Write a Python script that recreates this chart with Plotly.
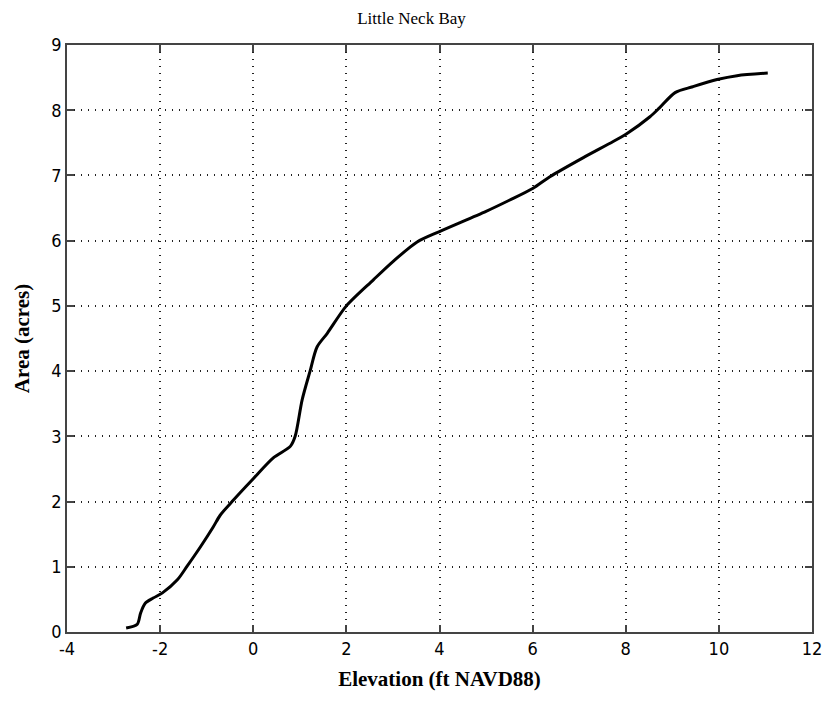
import plotly.graph_objects as go

# Hypsometric curve: wetted area vs. elevation
elevation_ft = [-2.73, -2.49, -2.42, -2.32, -2.15, -1.95, -1.63, -1.42, -1.14, -0.86,
                -0.71, -0.43, 0.0, 0.43, 0.8, 0.9, 1.05, 1.22, 1.37, 1.59, 2.0,
                2.58, 3.0, 3.52, 4.0, 5.0, 5.5, 6.0, 6.37, 7.08, 7.73, 8.02, 8.52,
                8.73, 9.06, 9.44, 9.96, 10.39, 11.05]
area_acres = [0.06, 0.12, 0.29, 0.44, 0.52, 0.60, 0.80, 1.01, 1.30, 1.61,
              1.79, 2.02, 2.35, 2.67, 2.85, 3.0, 3.56, 4.0, 4.37, 4.58, 5.0,
              5.4, 5.68, 5.98, 6.14, 6.45, 6.62, 6.8, 6.98, 7.27, 7.52, 7.64, 7.9,
              8.04, 8.27, 8.36, 8.47, 8.53, 8.57]

x_ticks = [-4, -2, 0, 2, 4, 6, 8, 10, 12]
x_ticklabels = ["-4", "-2", "0", "2", "4", "6", "8", "10", "12"]
y_ticks = [0, 1, 2, 3, 4, 5, 6, 7, 8, 9]
y_ticklabels = ["0", "1", "2", "3", "4", "5", "6", "7", "8", "9"]

serif = "Liberation Serif, Times New Roman, serif"
narrow = "Liberation Sans Narrow, Arial Narrow, DejaVu Sans Condensed, sans-serif"

fig = go.Figure()
fig.add_trace(go.Scatter(
    x=elevation_ft, y=area_acres, mode="lines",
    line=dict(color="black", width=3, shape="spline", smoothing=0.8),
    showlegend=False,
))

axis_common = dict(
    automargin=False,
    showline=True, linecolor="#444444", linewidth=1.5, mirror="ticks",
    ticks="inside", ticklen=7, tickcolor="#444444", tickwidth=1.5,
    showgrid=True, gridcolor="#222222", griddash="1px,6px", gridwidth=1.5,
    zeroline=False,
    tickfont=dict(family=narrow, size=18, color="black"),
)

fig.update_layout(
    width=823, height=702,
    margin=dict(l=67, r=11, t=45, b=70),
    paper_bgcolor="white", plot_bgcolor="white",
    title=dict(text="Little Neck Bay", x=0.5, xanchor="center",
               y=1 - 18 / 702, yanchor="middle",
               font=dict(family=serif, size=17, color="black")),
    xaxis=dict(range=[-4, 12], tickvals=x_ticks, ticktext=x_ticklabels,
               title=dict(text="<b>Elevation (ft NAVD88)</b>", standoff=13,
                          font=dict(family=serif, size=21, color="black")),
               **axis_common),
    yaxis=dict(range=[0, 9], tickvals=y_ticks, ticktext=y_ticklabels,
               title=dict(text="<b>Area (acres)</b>", standoff=16,
                          font=dict(family=serif, size=21, color="black")),
               **axis_common),
)

fig.write_html("out.html")
